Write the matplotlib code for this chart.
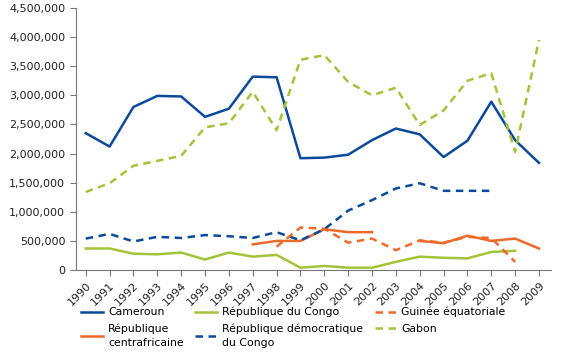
import numpy as np
import matplotlib
matplotlib.use('Agg')
import matplotlib.pyplot as plt
from matplotlib.ticker import FuncFormatter

years = np.arange(1990, 2010)
nan = np.nan

cameroun = [2.35, 2.12, 2.80, 2.99, 2.98, 2.63, 2.77, 3.32, 3.31, 1.92,
            1.93, 1.98, 2.23, 2.43, 2.33, 1.94, 2.22, 2.89, 2.23, 1.84]
gabon = [1.34, 1.49, 1.79, 1.875, 1.96, 2.45, 2.52, 3.06, 2.40, 3.61,
         3.69, 3.23, 3.00, 3.13, 2.49, 2.74, 3.25, 3.38, 2.03, 3.95]
rdc = [0.54, 0.62, 0.49, 0.57, 0.55, 0.60, 0.58, 0.55, 0.65, 0.51,
       0.70, 1.02, 1.20, 1.40, 1.49, 1.36, 1.36, 1.36, nan, nan]
congo = [0.37, 0.37, 0.28, 0.27, 0.30, 0.18, 0.30, 0.23, 0.26, 0.04,
         0.07, 0.04, 0.04, 0.14, 0.23, 0.21, 0.20, 0.31, 0.33, nan]
rca = [nan, nan, nan, nan, nan, nan, nan, 0.44, 0.50, 0.50,
       0.70, 0.65, 0.65, nan, 0.50, 0.46, 0.59, 0.50, 0.54, 0.37]
guinee = [nan, nan, nan, nan, nan, nan, nan, nan, 0.40, 0.73,
          0.71, 0.47, 0.54, 0.34, 0.51, 0.47, 0.57, 0.55, 0.14, nan]

blue = '#0b4a9a'
green = '#a3c439'
orange = '#ee6a2a'

plt.rcParams['font.family'] = 'DejaVu Sans'
plt.rcParams['font.size'] = 8

fig = plt.figure(figsize=(5.61, 3.61), dpi=100)
ax = fig.add_axes([0.135, 0.252, 0.847, 0.726])

lw = 1.8
dash = (0, (3, 2.2))
ax.plot(years, np.array(cameroun) * 1e6, color=blue, lw=lw, label='Cameroun')
ax.plot(years, np.array(rca) * 1e6, color=orange, lw=lw, label='République\ncentrafricaine')
ax.plot(years, np.array(congo) * 1e6, color=green, lw=lw, label='République du Congo')
ax.plot(years, np.array(rdc) * 1e6, color=blue, lw=lw, ls=dash, label='République démocratique\ndu Congo')
ax.plot(years, np.array(guinee) * 1e6, color=orange, lw=lw, ls=dash, label='Guinée équatoriale')
ax.plot(years, np.array(gabon) * 1e6, color=green, lw=lw, ls=dash, label='Gabon')

ax.set_xlim(1989.58, 2009.5)
ax.set_ylim(0, 4.5e6)
ax.set_yticks(np.arange(0, 4.5e6 + 1, 5e5))
ax.yaxis.set_major_formatter(FuncFormatter(lambda v, p: f'{int(v):,}'))
ax.set_xticks(years)
ax.set_xticklabels([str(y) for y in years], rotation=45, ha='right', rotation_mode='anchor')

for s in ['top', 'right']:
    ax.spines[s].set_visible(False)
for s in ['left', 'bottom']:
    ax.spines[s].set_color('#777777')
    ax.spines[s].set_linewidth(0.8)
ax.tick_params(colors='#777777', labelcolor='#222222', length=4, width=0.8)

leg = fig.legend(*ax.get_legend_handles_labels(), ncol=3, loc='upper left',
                 bbox_to_anchor=(0.145, 0.15), frameon=False, fontsize=7.8,
                 handlelength=2.0, handletextpad=0.45, columnspacing=1.1,
                 labelspacing=0.6, borderaxespad=0, borderpad=0)
for t in leg.get_texts():
    t.set_linespacing(1.4)

fig.savefig('out.png', dpi=100)
